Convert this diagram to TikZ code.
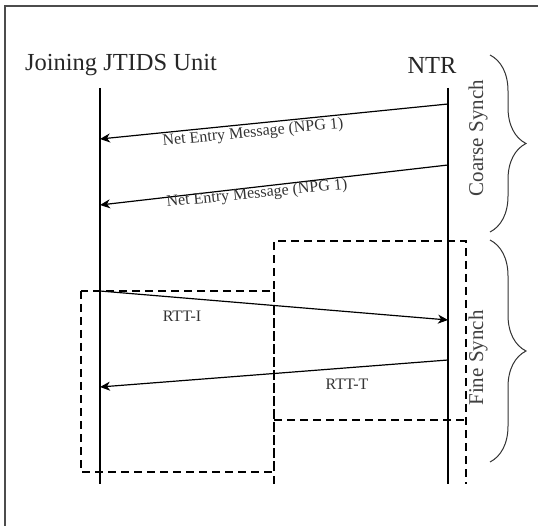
\documentclass[tikz,border=0pt]{standalone}
\usepackage{fontspec}
\setmainfont{Liberation Serif}
\usetikzlibrary{arrows.meta,decorations.pathreplacing}

\tikzset{
  lifeline/.style={line width=1.8pt, black},
  msg/.style={line width=1.2pt, black, -{Stealth[length=10pt,width=9pt,inset=3pt]}},
  msglabel/.style={font=\fontsize{16}{18}\selectfont, text=black!80, inner sep=0pt},
  actor/.style={font=\fontsize{24.5}{28}\selectfont, text=black!85, inner sep=0pt},
  phase/.style={font=\fontsize{21}{24}\selectfont, text=black!75, inner sep=0pt, rotate=90},
  region/.style={line width=1.6pt, dash pattern=on 8pt off 5pt, black},
  phasebrace/.style={decorate, decoration={brace, amplitude=36pt}, line width=1pt, black!80},
  frame/.style={line width=1.4pt, black!70}
}

\begin{document}
\begin{tikzpicture}[x=1pt, y=-1pt]
  \useasboundingbox (0,0) rectangle (538,526);

  % outer frame (top and left edges)
  \draw[frame] (5,526) -- (5,6) -- (538,6);

  % participants
  \node[actor] (jtu) at (121,65) {Joining JTIDS Unit};
  \node[actor] (ntr) at (432,65) {NTR};

  % lifelines
  \coordinate (jtop) at (100,88);
  \coordinate (jbot) at (100,484);
  \coordinate (ntop) at (448,88);
  \coordinate (nbot) at (448,484);
  \draw[lifeline] (jtop) -- (jbot);
  \draw[lifeline] (ntop) -- (nbot);

  % message endpoints
  \coordinate (m1s) at (448,104);
  \coordinate (m1e) at (100,139);
  \coordinate (m2s) at (448,165);
  \coordinate (m2e) at (100,205);
  \coordinate (m3s) at (100,291);
  \coordinate (m3e) at (448,320);
  \coordinate (m4s) at (448,360);
  \coordinate (m4e) at (100,387);

  % fine-synch regions
  \draw[region] (81,291) rectangle (274,472);
  \draw[region] (274,484) -- (274,241) -- (466,241) -- (466,484);
  \draw[region] (274,420) -- (466,420);

  % messages
  \draw[msg] (m1s) -- (m1e);
  \draw[msg] (m2s) -- (m2e);
  \draw[msg] (m3s) -- (m3e);
  \draw[msg] (m4s) -- (m4e);

  \node[msglabel, rotate=5.7] (l1) at (253,133) {Net Entry Message (NPG 1)};
  \node[msglabel, rotate=5.7] (l2) at (257,194) {Net Entry Message (NPG 1)};
  \node[msglabel] (l3) at (182,316) {RTT-I};
  \node[msglabel] (l4) at (347,384) {RTT-T};

  % phase braces
  \coordinate (cbt) at (490,55);
  \coordinate (cbb) at (490,232);
  \coordinate (fbt) at (490,240);
  \coordinate (fbb) at (490,462);
  \draw[phasebrace] (cbt) -- (cbb);
  \draw[phasebrace] (fbt) -- (fbb);

  \node[phase] (coarse) at (478,138) {Coarse Synch};
  \node[phase] (fine) at (478,358) {Fine Synch};
\end{tikzpicture}
\end{document}
